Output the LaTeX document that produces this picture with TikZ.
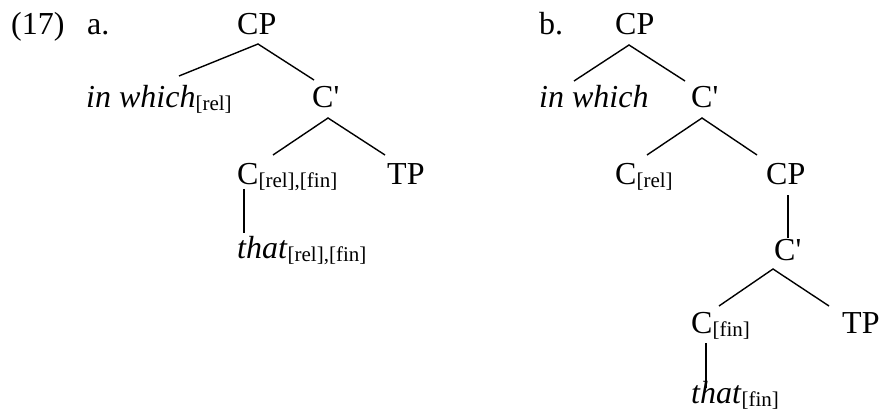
\documentclass[tikz,border=0pt]{standalone}
\usepackage{fontspec}
\setmainfont{Liberation Serif}
\usepackage{tikz}
\newcommand{\treefont}{\fontsize{32}{38}\selectfont}
\newcommand{\fsub}[1]{\raisebox{-3pt}{\fontsize{21}{21}\selectfont #1}}
\newcommand{\xbar}{\textquotesingle}

\begin{document}
\begin{tikzpicture}[x=1pt,y=-1pt,
    lbl/.style={inner sep=0pt,anchor=base west,font=\treefont},
    br/.style={line width=1.4pt}]
  \useasboundingbox (0,0) rectangle (880,414);
  % (17a)
  \node[lbl] (ex17) at (11,35) {(17)};
  \node[lbl] (exa) at (87,35) {a.};
  \node[lbl] (cpa) at (237,35) {CP};
  \node[lbl] (wha) at (86,108) {\textit{in which}\fsub{[rel]}};
  \node[lbl] (cba) at (312,108) {C\xbar};
  \node[lbl] (cha) at (237,185) {C\fsub{[rel],[fin]}};
  \node[lbl] (tpa) at (387,185) {TP};
  \node[lbl] (tha) at (237,258) {\textit{that}\fsub{[rel],[fin]}};
  \draw[br] ([shift={(93,-32)}]wha.base west) -- ([shift={(21,9)}]cpa.base west)
    -- ([shift={(2,-28)}]cba.base west);
  \draw[br] ([shift={(36,-30)}]cha.base west) -- ([shift={(16,10)}]cba.base west)
    -- ([shift={(-2,-30)}]tpa.base west);
  \draw[br] ([shift={(7,4)}]cha.base west) -- ([shift={(7,-25)}]tha.base west);
  % (17b)
  \node[lbl] (exb) at (539,35) {b.};
  \node[lbl] (cpb) at (615,35) {CP};
  \node[lbl] (whb) at (539,108) {\textit{in which}};
  \node[lbl] (cbb) at (691,108) {C\xbar};
  \node[lbl] (chb) at (615,185) {C\fsub{[rel]}};
  \node[lbl] (cpc) at (766,185) {CP};
  \node[lbl] (cbc) at (774,260) {C\xbar};
  \node[lbl] (chc) at (691,333) {C\fsub{[fin]}};
  \node[lbl] (tpb) at (842,333) {TP};
  \node[lbl] (thb) at (691,403) {\textit{that}\fsub{[fin]}};
  \draw[br] ([shift={(35,-27)}]whb.base west) -- ([shift={(14,10)}]cpb.base west)
    -- ([shift={(-6,-27)}]cbb.base west);
  \draw[br] ([shift={(32,-30)}]chb.base west) -- ([shift={(11,10)}]cbb.base west)
    -- ([shift={(-9,-30)}]cpc.base west);
  \draw[br] ([shift={(22,10)}]cpc.base west) -- ([shift={(14,-22)}]cbc.base west);
  \draw[br] ([shift={(28,-27)}]chc.base west) -- ([shift={(-1,9)}]cbc.base west)
    -- ([shift={(-13,-27)}]tpb.base west);
  \draw[br] ([shift={(15,10)}]chc.base west) -- ([shift={(15,-15)}]thb.base west);
\end{tikzpicture}
\end{document}
